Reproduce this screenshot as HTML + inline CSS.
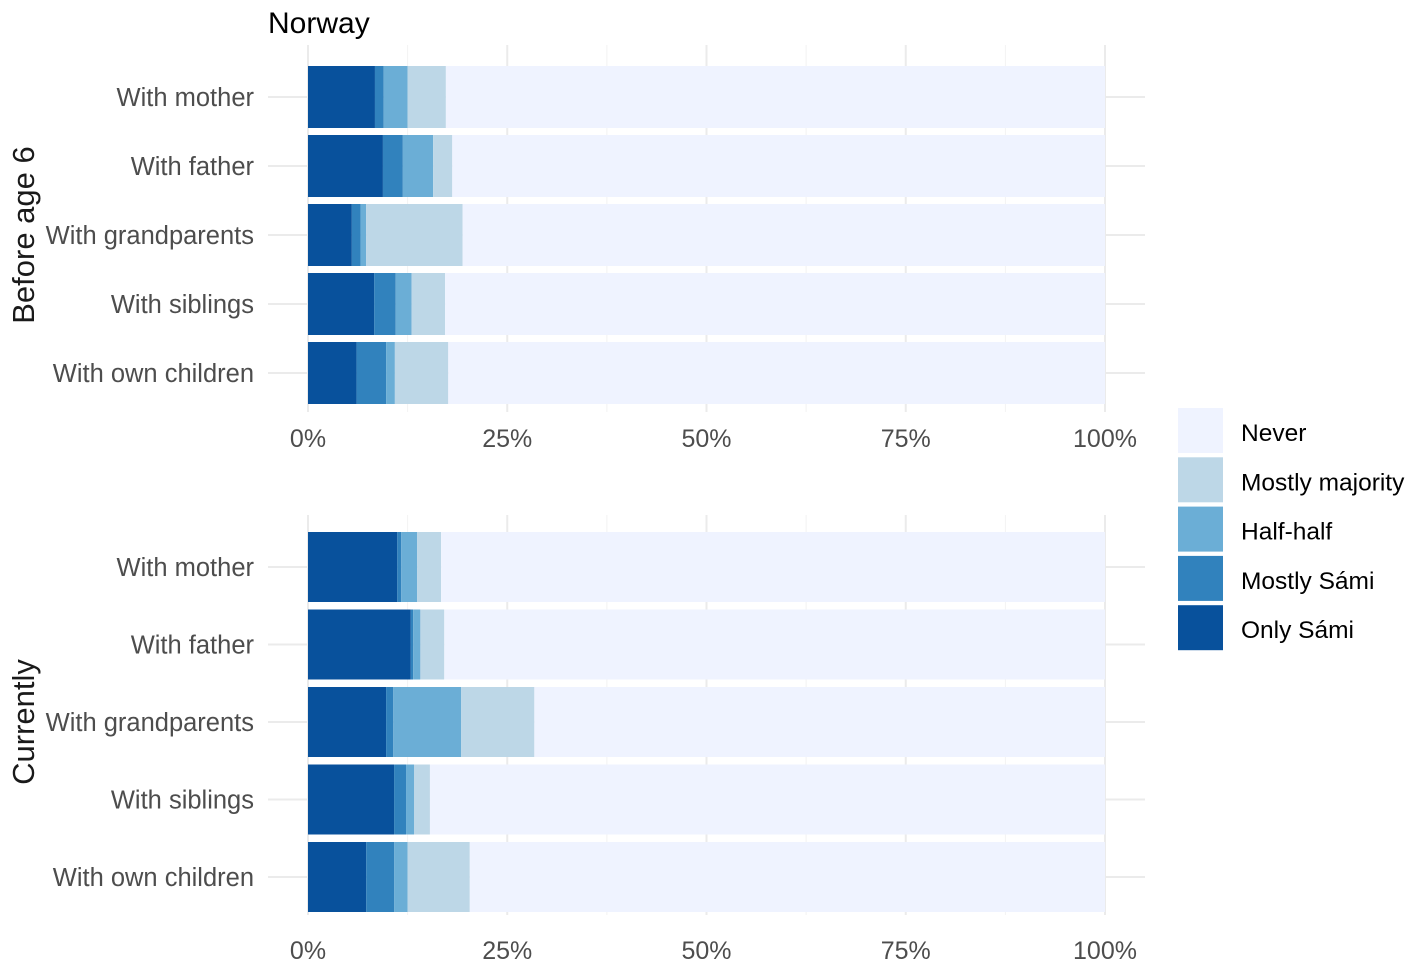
<!DOCTYPE html>
<html><head><meta charset="utf-8"><style>
body{margin:0;background:#fff;}
svg text{font-family:"Liberation Sans",sans-serif;}
</style></head><body>
<svg width="1417" height="970" id="c">
<text x="268" y="33" font-size="30" fill="#000">Norway</text>
</svg>
<script>
const categories=["With mother","With father","With grandparents","With siblings","With own children"];
const seriesNames=["Only Sámi","Mostly Sámi","Half-half","Mostly majority","Never"];
const colors=["#08519C","#3182BD","#6BAED6","#BDD7E7","#EFF3FF"];
const beforeOnly=[8.4,9.4,5.5,8.3,6.1];
const beforeMostlySami=[1.1,2.5,1.1,2.7,3.7];
const beforeHalf=[3.0,3.8,0.7,2.0,1.1];
const beforeMajority=[4.8,2.4,12.1,4.2,6.7];
const nowOnly=[11.2,12.9,9.8,10.8,7.3];
const nowMostlySami=[0.5,0.3,0.9,1.5,3.5];
const nowHalf=[2.0,0.9,8.5,1.0,1.7];
const nowMajority=[3.0,3.0,9.2,2.0,7.8];
const ticks=[0,25,50,75,100];
const tickLabels=["0%","25%","50%","75%","100%"];
const panelNames=["Before age 6","Currently"];

const svg=document.getElementById('c');const NS="http://www.w3.org/2000/svg";
function mk(t,a,p){const e=document.createElementNS(NS,t);for(const k in a)e.setAttribute(k,a[k]);(p||svg).appendChild(e);return e;}
const x0=308,x1=1105;const xs=v=>x0+(x1-x0)*v/100;
const panels=[
 {top:45,bottom:412,first:97,step:69,h:62,data:[beforeOnly,beforeMostlySami,beforeHalf,beforeMajority],tickY:447,labelY:235},
 {top:515,bottom:915,first:567,step:77.5,h:70,data:[nowOnly,nowMostlySami,nowHalf,nowMajority],tickY:959,labelY:722}
];
panels.forEach((p,pi)=>{
 const g=mk('g',{});
 
 
 for(let v=0;v<=100;v+=12.5){const l=mk('line',{x1:xs(v),x2:xs(v),y1:p.top,y2:p.bottom,stroke:v%25==0?'#ebebeb':'#f2f2f2','stroke-width':v%25==0?2:1},g);
  }
 categories.forEach((c,i)=>{
  const cy=p.first+i*p.step;
  const gl=mk('line',{x1:268,x2:1145,y1:cy,y2:cy,stroke:'#ebebeb','stroke-width':2},g);
  
  const t=mk('text',{x:254,y:cy+9,'font-size':25.5,fill:'#4d4d4d','text-anchor':'end'},g);t.textContent=c;
  
  let cum=0;
  const vals=p.data.map(a=>a[i]);vals.push(100-vals.reduce((s,v)=>s+v,0));
  vals.forEach((v,k)=>{
   const r=mk('rect',{x:xs(cum),y:cy-p.h/2,width:xs(cum+v)-xs(cum),height:p.h,fill:colors[k]},g);
   
   cum+=v;});
 });
 ticks.forEach((v,k)=>{const t=mk('text',{x:xs(v),y:p.tickY,'font-size':25,fill:'#4d4d4d','text-anchor':'middle'},g);t.textContent=tickLabels[k];
  });
 const f=mk('text',{x:0,y:0,'font-size':31,fill:'#1a1a1a','text-anchor':'middle',transform:`translate(34,${p.labelY}) rotate(-90)`},g);f.textContent=panelNames[pi];
 
});
const lg=mk('g',{});


[4,3,2,1,0].forEach((k,j)=>{
 const y=408+j*49.3;
 const r=mk('rect',{x:1178,y:y,width:45,height:45,fill:colors[k]},lg);
 
 const t=mk('text',{x:1241,y:y+33,'font-size':24.5,fill:'#000'},lg);t.textContent=seriesNames[k];
 
});
</script>
</body></html>
